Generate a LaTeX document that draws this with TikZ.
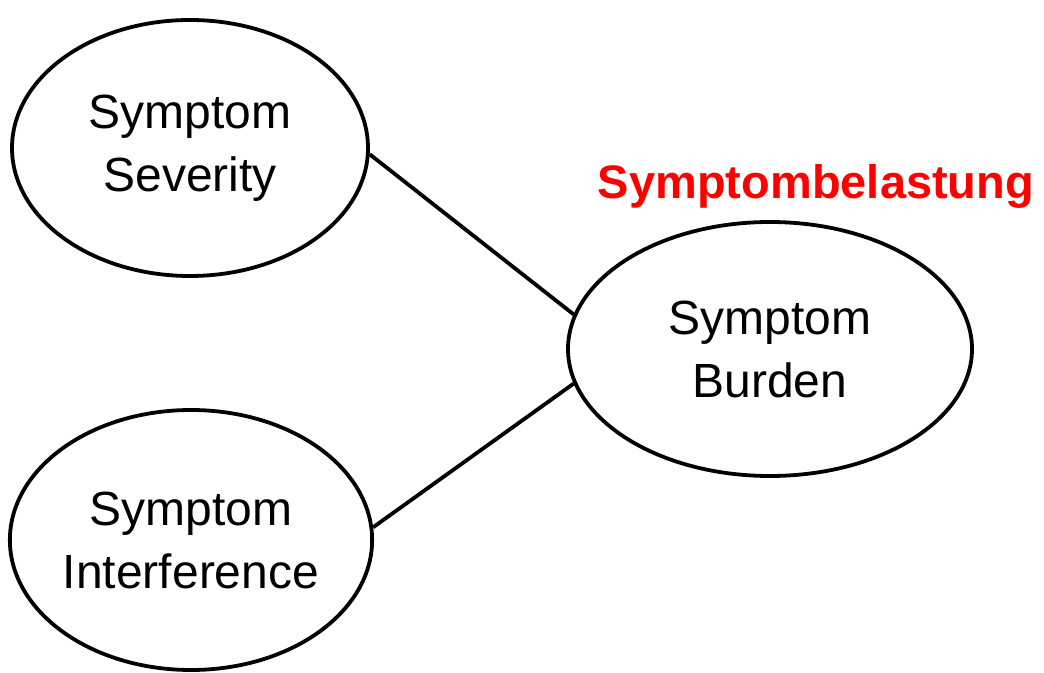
\documentclass[tikz,border=0pt]{standalone}
\usepackage{fontspec}
\setmainfont{Liberation Sans}
\usetikzlibrary{shapes.geometric}
\tikzstyle{factor} = [draw, ellipse, line width=1.9pt, inner sep=0mm, align=center, font=\fontsize{24}{31.5}\selectfont]
\tikzstyle{l} = [line width=1.9pt]
\tikzstyle{note} = [draw=none, inner sep=0mm, text=red, font=\fontsize{23.5}{28}\selectfont\bfseries]

\begin{document}
\begin{tikzpicture}[x=0.5pt, y=-0.5pt]
    \useasboundingbox (0,0) rectangle (1044,673);
    %\draw[help lines, step=100] (0,0) grid (1044,673);
    \node[factor, minimum width=178pt, minimum height=128pt] (sev) at (190,148) {Symptom\\Severity};
    \node[factor, minimum width=177pt, minimum height=130pt] (intf) at (191,540) {Symptom\\Interference};
    \node[factor, minimum width=202pt, minimum height=127pt] (burden) at (770,349) {Symptom\\Burden};
    \node[note, anchor=base] (label) at (816,199) {Symptombelastung};

    \draw[l] (sev.-2) -- (burden.170);
    \draw[l] (intf.4) -- (burden.190);
\end{tikzpicture}
\end{document}
